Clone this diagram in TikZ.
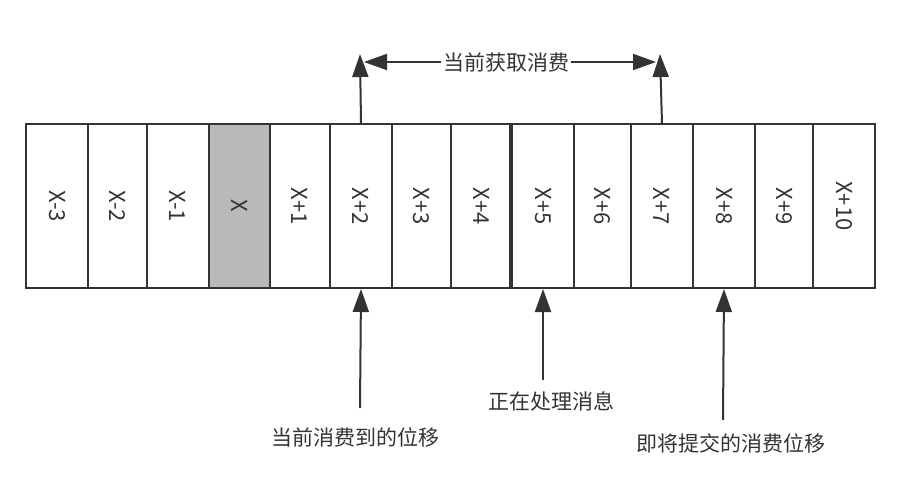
\documentclass[tikz,border=0pt]{standalone}
\usepackage{fontspec}
\setmainfont{Noto Sans CJK SC}
\usetikzlibrary{arrows.meta}
\definecolor{ink}{HTML}{333333}
\definecolor{shade}{HTML}{B9B9B9}
\tikzset{
  cell/.style={draw=ink, line width=2pt, inner sep=0pt, minimum height=164pt, anchor=west},
  lab/.style={text=ink, font=\fontsize{22}{26}\selectfont, rotate=-90},
  note/.style={text=ink, font=\fontsize{21}{25}\selectfont, inner sep=2pt},
  arr/.style={draw=ink, line width=2pt, -{Triangle[length=23pt,width=16pt]}}
}
\begin{document}
\begin{tikzpicture}[x=1pt,y=-1pt]
\useasboundingbox (0,0) rectangle (900,490);
\foreach \a/\b/\t/\i in {25/87/X-3/1,87/146/X-2/2,146/208/X-1/3,208/269/X/4,269/329/X+1/5,329/391/X+2/6,391/450/X+3/7,450/511/X+4/8,511/573/X+5/9,573/630/X+6/10,630/692/X+7/11,692/754/X+8/12,754/812/X+9/13,812/874/X+10/14}{
  \pgfmathsetmacro\w{\b-\a}
  \ifnum\i=4
    \node[cell, fill=shade, minimum width=\w pt] (c\i) at (\a,206) {};
  \else
    \node[cell, minimum width=\w pt] (c\i) at (\a,206) {};
  \fi
  \node[lab] (t\i) at (c\i.center) {\t};
}
\draw[draw=ink, line width=3.2pt] (c9.north west) -- (c9.south west);
% top arrows
\coordinate (u1) at (360,54);
\coordinate (u2) at (660,54);
\draw[arr] (c6.north) -- (u1);
\draw[arr] (c11.north) -- (u2);
\node[note] (top) at (506,62) {当前获取消费};
\coordinate (h1) at (364,62);
\coordinate (h2) at (656,62);
\draw[arr] (top.west) -- (h1);
\draw[arr] (top.east) -- (h2);
% bottom arrows
\coordinate (b1) at (360,408);
\coordinate (b2) at (543,380);
\coordinate (b3) at (723,420);
\draw[arr] (b1) -- (c6.south);
\draw[arr] (b2) -- (c9.south);
\draw[arr] (b3) -- (c12.south);
\node[note] (n1) at (355,437) {当前消费到的位移};
\node[note] (n2) at (551,401) {正在处理消息};
\node[note] (n3) at (731,443) {即将提交的消费位移};
\end{tikzpicture}
\end{document}
